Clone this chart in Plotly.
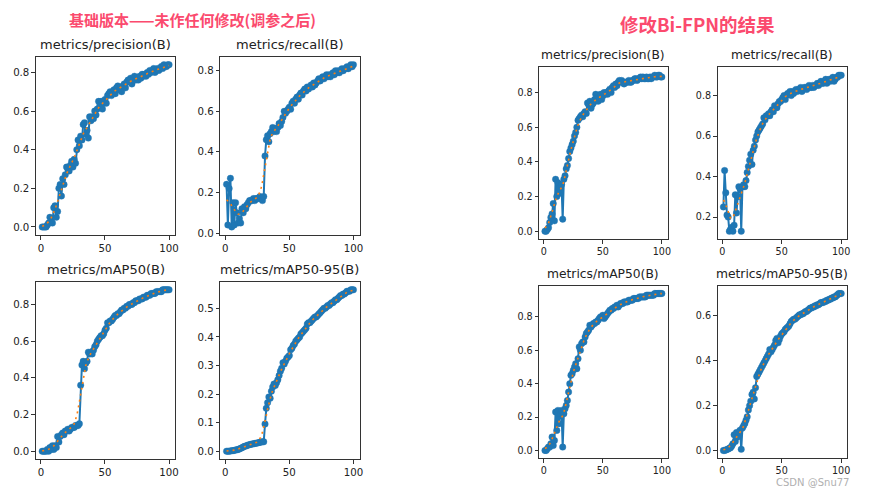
import numpy as np
import plotly.graph_objects as go

epochs = list(range(1, 101))

# ---- Left figure (baseline) ----
base_precision = [
    0.00,0.00,0.00,0.00,0.01,0.02,0.05,0.03,0.02,0.10,
    0.11,0.05,0.08,0.20,0.22,0.16,0.25,0.22,0.27,0.31,
    0.30,0.29,0.32,0.34,0.31,0.35,0.33,0.40,0.45,0.42,
    0.47,0.45,0.53,0.54,0.48,0.50,0.46,0.57,0.55,0.57,
    0.56,0.60,0.58,0.61,0.65,0.63,0.65,0.61,0.64,0.66,
    0.64,0.68,0.69,0.70,0.68,0.70,0.71,0.69,0.72,0.73,
    0.71,0.72,0.70,0.73,0.74,0.72,0.75,0.76,0.75,0.77,
    0.74,0.76,0.78,0.76,0.77,0.76,0.78,0.77,0.79,0.78,
    0.79,0.78,0.80,0.79,0.81,0.80,0.81,0.82,0.80,0.81,
    0.82,0.81,0.82,0.83,0.82,0.84,0.83,0.83,0.84,0.84]
base_recall = [
    0.24,0.04,0.22,0.27,0.03,0.15,0.04,0.15,0.10,0.05,
    0.07,0.05,0.12,0.10,0.13,0.12,0.14,0.15,0.16,0.16,
    0.16,0.17,0.16,0.17,0.17,0.17,0.18,0.17,0.16,0.18,
    0.38,0.46,0.48,0.45,0.49,0.50,0.52,0.50,0.51,0.50,
    0.52,0.54,0.53,0.55,0.57,0.60,0.59,0.60,0.61,0.62,
    0.61,0.64,0.65,0.64,0.66,0.67,0.66,0.68,0.69,0.68,
    0.70,0.71,0.70,0.72,0.71,0.72,0.73,0.72,0.74,0.73,
    0.74,0.75,0.76,0.75,0.76,0.77,0.76,0.77,0.78,0.77,
    0.78,0.77,0.78,0.79,0.78,0.80,0.79,0.80,0.79,0.80,
    0.81,0.80,0.81,0.81,0.82,0.81,0.82,0.83,0.82,0.83]
base_map50 = [
    0.00,0.00,0.00,0.00,0.01,0.00,0.02,0.01,0.03,0.01,
    0.03,0.02,0.08,0.05,0.08,0.09,0.10,0.09,0.11,0.11,
    0.12,0.11,0.12,0.13,0.13,0.13,0.14,0.14,0.14,0.15,
    0.36,0.47,0.49,0.45,0.48,0.49,0.54,0.53,0.54,0.53,
    0.55,0.57,0.58,0.60,0.61,0.62,0.63,0.63,0.64,0.66,
    0.67,0.70,0.70,0.71,0.71,0.72,0.73,0.74,0.74,0.75,
    0.75,0.76,0.77,0.77,0.78,0.78,0.79,0.79,0.80,0.80,
    0.80,0.81,0.81,0.82,0.82,0.82,0.83,0.83,0.83,0.84,
    0.84,0.84,0.85,0.85,0.85,0.86,0.86,0.86,0.86,0.87,
    0.87,0.87,0.87,0.87,0.88,0.88,0.88,0.88,0.88,0.88]
base_map5095 = [
    0.000,0.000,0.000,0.001,0.002,0.002,0.003,0.004,0.005,0.006,
    0.008,0.010,0.012,0.015,0.017,0.018,0.020,0.022,0.023,0.024,
    0.025,0.026,0.027,0.028,0.029,0.030,0.031,0.032,0.033,0.033,
    0.095,0.150,0.170,0.190,0.185,0.210,0.225,0.235,0.230,0.240,
    0.250,0.265,0.280,0.290,0.310,0.305,0.315,0.325,0.330,0.335,
    0.355,0.360,0.370,0.375,0.385,0.390,0.395,0.400,0.410,0.415,
    0.420,0.425,0.430,0.445,0.450,0.450,0.455,0.460,0.465,0.470,
    0.470,0.475,0.480,0.485,0.490,0.495,0.500,0.500,0.505,0.510,
    0.510,0.515,0.520,0.520,0.525,0.530,0.530,0.535,0.540,0.545,
    0.545,0.550,0.550,0.555,0.560,0.560,0.560,0.565,0.565,0.565]

# ---- Right figure (Bi-FPN) ----
bifpn_precision = [
    0.00,0.00,0.01,0.02,0.05,0.08,0.10,0.16,0.06,0.30,
    0.20,0.28,0.25,0.22,0.27,0.07,0.30,0.32,0.36,0.38,
    0.42,0.46,0.48,0.50,0.52,0.55,0.57,0.60,0.64,0.65,
    0.66,0.67,0.66,0.68,0.69,0.68,0.74,0.73,0.75,0.71,
    0.73,0.74,0.76,0.79,0.77,0.75,0.77,0.79,0.76,0.78,
    0.80,0.79,0.80,0.79,0.81,0.82,0.80,0.83,0.84,0.83,
    0.85,0.84,0.86,0.87,0.86,0.87,0.86,0.85,0.86,0.86,
    0.86,0.87,0.86,0.86,0.87,0.87,0.88,0.88,0.87,0.88,
    0.88,0.89,0.88,0.89,0.88,0.88,0.89,0.88,0.88,0.89,
    0.88,0.89,0.89,0.90,0.89,0.89,0.90,0.90,0.89,0.89]
bifpn_recall = [
    0.25,0.43,0.32,0.21,0.20,0.13,0.14,0.15,0.13,0.16,
    0.31,0.22,0.30,0.35,0.34,0.13,0.35,0.36,0.35,0.38,
    0.42,0.45,0.48,0.51,0.46,0.53,0.55,0.58,0.60,0.62,
    0.63,0.64,0.65,0.66,0.69,0.68,0.70,0.70,0.71,0.70,
    0.72,0.73,0.72,0.75,0.74,0.74,0.76,0.77,0.77,0.78,
    0.79,0.80,0.78,0.80,0.81,0.81,0.82,0.80,0.82,0.81,
    0.82,0.83,0.82,0.83,0.83,0.84,0.82,0.83,0.84,0.84,
    0.83,0.84,0.85,0.84,0.84,0.85,0.84,0.85,0.85,0.86,
    0.85,0.86,0.87,0.86,0.86,0.87,0.88,0.86,0.87,0.88,
    0.87,0.88,0.89,0.87,0.88,0.89,0.89,0.90,0.90,0.90]
bifpn_map50 = [
    0.00,0.00,0.01,0.02,0.02,0.04,0.08,0.03,0.06,0.23,
    0.12,0.24,0.16,0.22,0.24,0.02,0.22,0.25,0.27,0.30,
    0.35,0.40,0.45,0.46,0.48,0.50,0.52,0.49,0.55,0.62,
    0.60,0.64,0.65,0.65,0.68,0.70,0.71,0.72,0.75,0.74,
    0.75,0.76,0.76,0.77,0.77,0.78,0.79,0.80,0.80,0.81,
    0.79,0.80,0.81,0.82,0.83,0.84,0.84,0.85,0.85,0.86,
    0.86,0.87,0.86,0.87,0.88,0.88,0.88,0.89,0.89,0.89,
    0.89,0.90,0.90,0.90,0.90,0.91,0.91,0.91,0.91,0.91,
    0.92,0.92,0.92,0.92,0.92,0.92,0.93,0.93,0.93,0.93,
    0.93,0.93,0.93,0.94,0.94,0.94,0.94,0.94,0.94,0.94]
bifpn_map5095 = [
    0.000,0.000,0.002,0.004,0.006,0.010,0.012,0.020,0.030,0.070,
    0.040,0.080,0.060,0.080,0.090,0.005,0.100,0.110,0.120,0.135,
    0.150,0.180,0.200,0.220,0.250,0.260,0.230,0.280,0.330,0.340,
    0.350,0.360,0.370,0.380,0.390,0.400,0.410,0.420,0.430,0.450,
    0.440,0.450,0.460,0.470,0.490,0.500,0.480,0.495,0.510,0.520,
    0.525,0.530,0.540,0.545,0.550,0.555,0.565,0.575,0.580,0.585,
    0.585,0.590,0.595,0.600,0.605,0.605,0.610,0.610,0.615,0.620,
    0.620,0.625,0.630,0.635,0.635,0.640,0.640,0.645,0.645,0.650,
    0.650,0.655,0.660,0.660,0.660,0.665,0.665,0.670,0.670,0.675,
    0.675,0.680,0.680,0.685,0.685,0.690,0.695,0.700,0.700,0.700]

panel_titles = ["metrics/precision(B)", "metrics/recall(B)",
                "metrics/mAP50(B)", "metrics/mAP50-95(B)"]
x_ticks = [0, 50, 100]
yticks_base = [[0.0, 0.2, 0.4, 0.6, 0.8], [0.0, 0.2, 0.4, 0.6, 0.8],
               [0.0, 0.2, 0.4, 0.6, 0.8], [0.0, 0.1, 0.2, 0.3, 0.4, 0.5]]
yticks_bifpn = [[0.0, 0.2, 0.4, 0.6, 0.8], [0.2, 0.4, 0.6, 0.8],
                [0.0, 0.2, 0.4, 0.6, 0.8], [0.0, 0.2, 0.4, 0.6]]
left_title = "基础版本——未作任何修改(调参之后)"
right_title = "修改Bi-FPN的结果"
watermark = "CSDN @Snu77"


def smooth(y, sigma=3.0):
    y = np.asarray(y, float)
    r = int(4 * sigma + 0.5)
    k = np.exp(-0.5 * (np.arange(-r, r + 1) / sigma) ** 2)
    k /= k.sum()
    yp = np.pad(y, r, mode="symmetric")
    return np.convolve(yp, k, mode="valid")


W, H = 869, 500
# pixel boxes: (x0, x1, y0, y1)
boxes_left = [(36, 176, 57, 237), (221, 361, 57, 237),
              (36, 176, 284, 463), (221, 361, 284, 463)]
boxes_right = [(541, 670, 68, 241), (720, 850, 68, 241),
               (541, 670, 288, 462), (720, 850, 288, 462)]

panels = []
for series, ticks, box in zip([base_precision, base_recall, base_map50, base_map5095],
                              yticks_base, boxes_left):
    panels.append((series, ticks, box, 13, 10.2))
for series, ticks, box in zip([bifpn_precision, bifpn_recall, bifpn_map50, bifpn_map5095],
                              yticks_bifpn, boxes_right):
    panels.append((series, ticks, box, 12.3, 9.6))

fig = go.Figure()
layout = {}
annotations = []
xmin, xmax = min(epochs), max(epochs)
xpad = 0.05 * (xmax - xmin)
for i, (series, ticks, box, tfs, kfs) in enumerate(panels):
    n = i + 1
    sx = "" if n == 1 else str(n)
    x0, x1, y0, y1 = box
    ylo, yhi = min(series), max(series)
    ypad = 0.05 * (yhi - ylo)
    fig.add_trace(go.Scatter(
        x=epochs, y=series, mode="lines+markers",
        line=dict(color="#1f77b4", width=2),
        marker=dict(color="#1f77b4", size=6.5, line=dict(width=0.8, color="rgba(31,119,180,0.45)")),
        xaxis="x" + sx, yaxis="y" + sx, showlegend=False))
    fig.add_trace(go.Scatter(
        x=epochs, y=smooth(series), mode="lines",
        line=dict(color="#ff7f0e", width=1.6, dash="2px,4px"),
        xaxis="x" + sx, yaxis="y" + sx, showlegend=False))
    common = dict(showline=True, mirror=True, linecolor="#333", linewidth=1,
                  ticks="outside", ticklen=3.5, tickcolor="#333", showgrid=False,
                  zeroline=False, tickfont=dict(family="DejaVu Sans", size=kfs, color="#222"))
    layout["xaxis" + sx] = dict(domain=[x0 / W, x1 / W], anchor="y" + sx,
                                range=[xmin - xpad, xmax + xpad],
                                tickvals=x_ticks, **common)
    layout["yaxis" + sx] = dict(domain=[1 - y1 / H, 1 - y0 / H], anchor="x" + sx,
                                range=[ylo - ypad, yhi + ypad],
                                tickvals=ticks, tickformat=".1f", **common)
    annotations.append(dict(text=panel_titles[i % 4], x=(x0 + x1) / 2 / W,
                            y=1 - (y0 - 3) / H, xref="paper", yref="paper",
                            xanchor="center", yanchor="bottom", showarrow=False,
                            font=dict(family="DejaVu Sans", size=tfs, color="#222")))

annotations.append(dict(text="<b>" + left_title + "</b>", x=193 / W, y=1 - 20 / H,
                        xref="paper", yref="paper", xanchor="center", yanchor="middle",
                        showarrow=False,
                        font=dict(family="Noto Sans CJK SC", size=15, color="#fb4a6e")))
annotations.append(dict(text="<b>" + right_title + "</b>", x=700 / W, y=1 - 24 / H,
                        xref="paper", yref="paper", xanchor="center", yanchor="middle",
                        showarrow=False,
                        font=dict(family="Noto Sans CJK SC", size=18.5, color="#fb4a6e")))
annotations.append(dict(text=watermark, x=854 / W, y=1 - 486 / H,
                        xref="paper", yref="paper", xanchor="right", yanchor="middle",
                        showarrow=False,
                        font=dict(family="DejaVu Sans", size=10, color="#b0b0b0")))

fig.update_layout(width=W, height=H, margin=dict(l=0, r=0, t=0, b=0),
                  paper_bgcolor="white", plot_bgcolor="white",
                  annotations=annotations, **layout)
fig.write_html("out.html")
